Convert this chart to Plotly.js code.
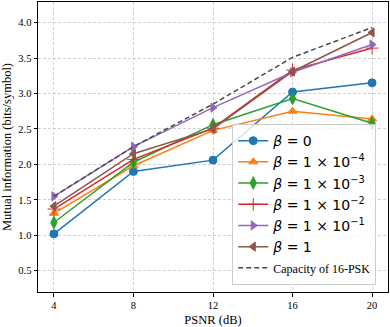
<!DOCTYPE html>
<html>
<head>
<meta charset="utf-8">
<script src="https://cdn.plot.ly/plotly-3.0.1.min.js"></script>
<style>
  body { margin: 0; padding: 0; background: #fff; }
  #chart { width: 390px; height: 327px; }
</style>
</head>
<body>
<div id="chart"></div>
<script>
// PSNR values on the x axis
const psnr = [4, 8, 12, 16, 20];

// mutual information per beta
const beta0 = [1.02, 1.90, 2.06, 3.02, 3.15];
const beta1e4 = [1.31, 1.98, 2.48, 2.75, 2.64];
const beta1e3 = [1.18, 2.03, 2.56, 2.93, 2.58];
const beta1e2 = [1.37, 2.07, 2.51, 3.33, 3.64];
const beta1e1 = [1.55, 2.25, 2.80, 3.30, 3.69];
const beta1 = [1.41, 2.15, 2.50, 3.31, 3.86];
const capacity = [1.55, 2.25, 2.85, 3.51, 3.93];

const yTicks = [0.5, 1.0, 1.5, 2.0, 2.5, 3.0, 3.5, 4.0];

const mathFont = 'DejaVu Sans';
const serif = 'Liberation Serif';

function series(y, name, color, symbol, size) {
    return {
        x: psnr, y: y, name: name,
        type: 'scatter', mode: 'lines+markers',
        line: {color: color, width: 1.5},
        marker: {color: color, symbol: symbol, size: size, line: {color: color, width: 1}}
    };
}

const traces = [
    series(beta0, '<i>β</i> = 0', '#1f77b4', 'circle', 8),
    series(beta1e4, '<i>β</i> = 1 × 10<sup>−4</sup>', '#ff7f0e', 'triangle-up', 8),
    series(beta1e3, '<i>β</i> = 1 × 10<sup>−3</sup>', '#2ca02c', 'diamond-tall', 9),
    series(beta1e2, '<i>β</i> = 1 × 10<sup>−2</sup>', '#d62728', 'cross-thin', 9),
    series(beta1e1, '<i>β</i> = 1 × 10<sup>−1</sup>', '#9467bd', 'triangle-right', 8),
    series(beta1, '<i>β</i> = 1', '#8c564b', 'triangle-left', 8),
    {
        x: psnr, y: capacity,
        name: '<span style="font-family:' + serif + ';font-size:12px">Capacity of 16-PSK</span>',
        type: 'scatter', mode: 'lines',
        line: {color: '#4a4a4a', width: 1.5, dash: '5px,3px'}
    }
];

const layout = {
    width: 390, height: 327,
    margin: {l: 38, r: 2, t: 2, b: 35},
    paper_bgcolor: '#fff', plot_bgcolor: '#fff',
    font: {family: serif, size: 10, color: '#000'},
    showlegend: true,
    legend: {
        x: 0.555, y: 0.024, xanchor: 'left', yanchor: 'bottom',
        bgcolor: 'rgba(255,255,255,0.8)', bordercolor: '#cccccc', borderwidth: 1,
        font: {family: mathFont, size: 14, color: '#000'},
        itemwidth: 30, tracegroupgap: 0
    },
    xaxis: {
        range: [3.2, 20.8],
        tickvals: psnr, ticktext: psnr.map(String),
        ticks: 'outside', ticklen: 3.5, tickcolor: '#000',
        showline: true, linecolor: '#000', linewidth: 1, mirror: true,
        showgrid: true, gridcolor: '#d0d0d0', griddash: '3px,2px', gridwidth: 1,
        zeroline: false,
        tickfont: {family: serif, size: 10.5},
        title: {text: 'PSNR (dB)', font: {family: serif, size: 12.5}, standoff: 8}
    },
    yaxis: {
        range: [0.2, 4.29],
        tickvals: yTicks, ticktext: yTicks.map(v => v.toFixed(1)),
        ticks: 'outside', ticklen: 3.5, tickcolor: '#000',
        showline: true, linecolor: '#000', linewidth: 1, mirror: true,
        showgrid: true, gridcolor: '#d0d0d0', griddash: '3px,2px', gridwidth: 1,
        zeroline: false,
        tickfont: {family: serif, size: 10.5},
        title: {text: 'Mutual information (bits/symbol)', font: {family: serif, size: 12.5}, standoff: 6}
    }
};

Plotly.newPlot('chart', traces, layout, {displayModeBar: false, staticPlot: true});
</script>
</body>
</html>
